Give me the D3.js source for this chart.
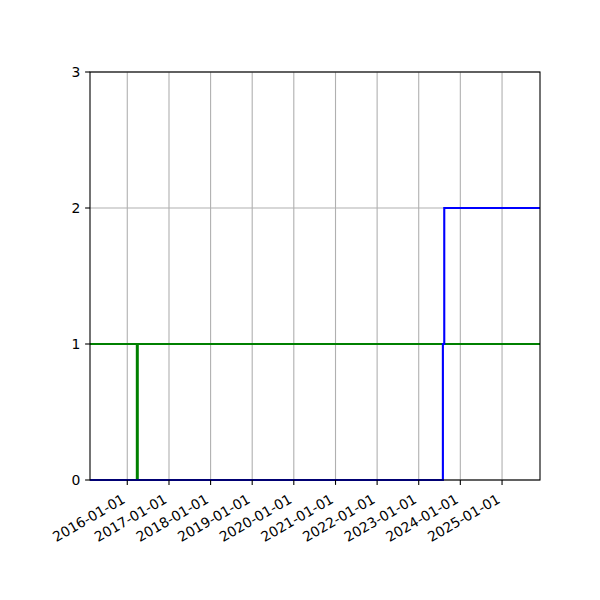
<!DOCTYPE html>
<html>
<head>
<meta charset="utf-8">
<script src="https://cdn.jsdelivr.net/npm/d3@7"></script>
<style>
  body { margin: 0; background: #fff; }
  svg text { font-family: "DejaVu Sans", sans-serif; font-size: 13.9px; fill: #000; }
</style>
</head>
<body>
<svg id="chart" width="600" height="600"></svg>
<script>
// x range of the axes
const xDomain = ["2015-02-08", "2025-11-30"];
const yDomain = [0, 3];
const yTicks = [0, 1, 2, 3];

// blue step series (step after)
const blueDates = ["2015-02-08", "2023-08-01", "2023-08-13", "2025-11-30"];
const blueValues = [0, 1, 2, 2];

// green step series and reference level
const greenDates = ["2016-03-29", "2016-03-29"];
const greenValues = [0, 1];
const greenLevel = 1;

const parse = d3.timeParse("%Y-%m-%d");
const fmt = d3.timeFormat("%Y-%m-%d");

const margin = { left: 90, right: 60, top: 72, bottom: 120 };
const W = 600, H = 600;
const iw = W - margin.left - margin.right;
const ih = H - margin.top - margin.bottom;

const svg = d3.select("#chart");
const g = svg.append("g").attr("transform", `translate(${margin.left},${margin.top})`);

const x = d3.scaleTime().domain(xDomain.map(parse)).range([0, iw]);
const y = d3.scaleLinear().domain(yDomain).range([ih, 0]);

const xTicks = d3.timeYear.range(parse("2016-01-01"), parse("2025-06-01"));

// grid
g.append("g").selectAll("line.gx")
  .data(xTicks)
  .join("line")
  .attr("x1", d => x(d)).attr("x2", d => x(d))
  .attr("y1", 0).attr("y2", ih)
  .style("stroke", "#b0b0b0").style("stroke-width", 1.1);

g.append("g").selectAll("line.gy")
  .data(yTicks)
  .join("line")
  .attr("x1", 0).attr("x2", iw)
  .attr("y1", d => y(d)).attr("y2", d => y(d))
  .style("stroke", "#b0b0b0").style("stroke-width", 1.1);

// lines
const clip = svg.append("clipPath").attr("id", "clip")
  .append("rect").attr("width", iw).attr("height", ih + 2).attr("y", -1);

const plot = g.append("g").attr("clip-path", "url(#clip)");

const line = d3.line()
  .x(d => x(d[0]))
  .y(d => y(d[1]))
  .curve(d3.curveStepAfter);

plot.append("line")
  .attr("x1", 0).attr("x2", iw)
  .attr("y1", y(greenLevel)).attr("y2", y(greenLevel))
  .style("stroke", "#008000").style("stroke-width", 2.1);

plot.append("path")
  .datum(greenDates.map((d, i) => [parse(d), greenValues[i]]))
  .attr("d", line)
  .style("fill", "none").style("stroke", "#008000").style("stroke-width", 3);

plot.append("path")
  .datum(blueDates.map((d, i) => [parse(d), blueValues[i]]))
  .attr("d", line)
  .style("fill", "none").style("stroke", "#0000ff").style("stroke-width", 2.1);

// spines
g.append("rect")
  .attr("width", iw).attr("height", ih)
  .style("fill", "none").style("stroke", "#000").style("stroke-width", 1.1);

// x ticks
const xt = g.append("g").attr("transform", `translate(0,${ih})`);
xt.selectAll("line")
  .data(xTicks)
  .join("line")
  .attr("x1", d => x(d)).attr("x2", d => x(d))
  .attr("y1", 0).attr("y2", 4.9)
  .style("stroke", "#000").style("stroke-width", 1.1);

xt.selectAll("text")
  .data(xTicks)
  .join("text")
  .attr("transform", d => `translate(${x(d) - 1},22) rotate(-30)`)
  .style("text-anchor", "end")
  .text(d => fmt(d));

// y ticks
const yt = g.append("g");
yt.selectAll("line")
  .data(yTicks)
  .join("line")
  .attr("x1", -4.9).attr("x2", 0)
  .attr("y1", d => y(d)).attr("y2", d => y(d))
  .style("stroke", "#000").style("stroke-width", 1.1);

yt.selectAll("text")
  .data(yTicks)
  .join("text")
  .attr("x", -9.7)
  .attr("y", d => y(d))
  .attr("dy", "0.36em")
  .style("text-anchor", "end")
  .text(d => d);
</script>
</body>
</html>
